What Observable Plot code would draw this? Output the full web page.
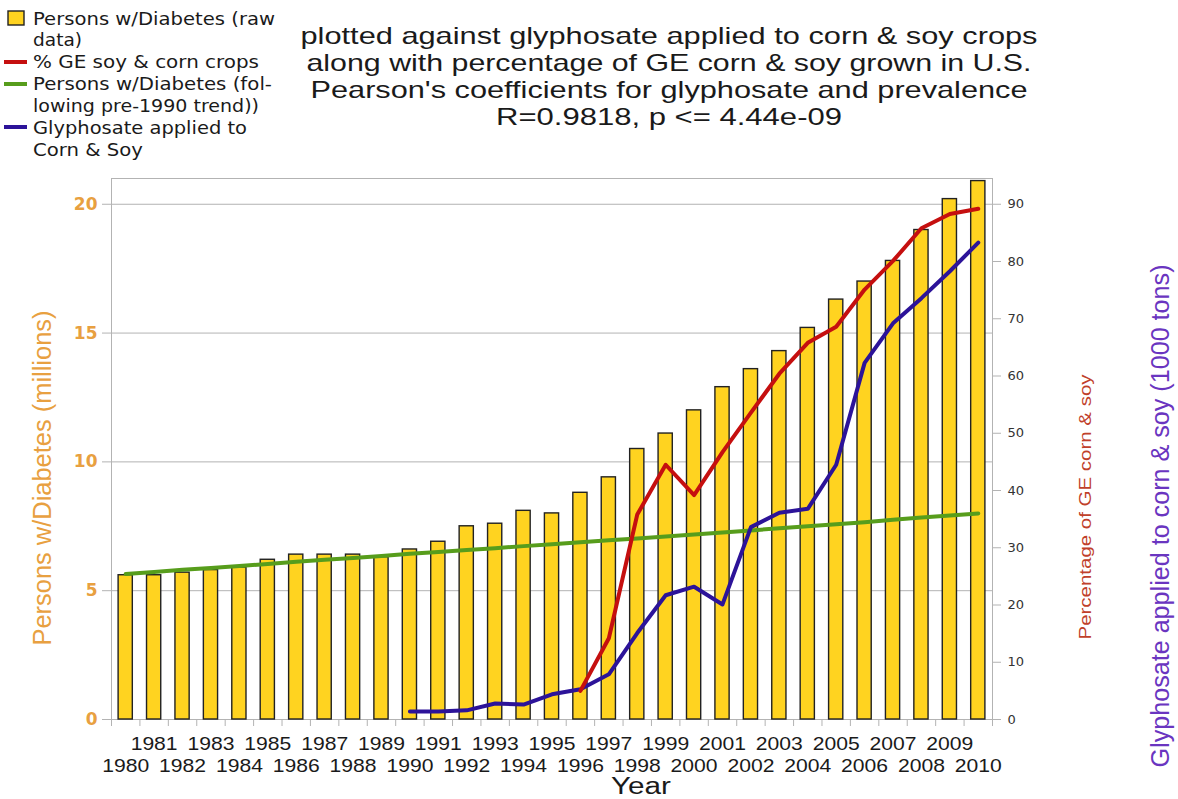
<!DOCTYPE html>
<html><head><meta charset="utf-8">
<script src="https://cdn.jsdelivr.net/npm/d3@7"></script>
<script src="https://cdn.jsdelivr.net/npm/@observablehq/plot@0.6"></script>
<style>html,body{margin:0;padding:0;background:#fff;} #chart{position:relative;width:1178px;height:799px;}</style>
</head><body><div id="chart"></div>
<script>
// ---------------- data ----------------
const years = [1980,1981,1982,1983,1984,1985,1986,1987,1988,1989,1990,1991,1992,1993,1994,1995,1996,1997,1998,1999,2000,2001,2002,2003,2004,2005,2006,2007,2008,2009,2010];
const diabetesMillions = [5.6,5.6,5.7,5.8,5.9,6.2,6.4,6.4,6.4,6.3,6.6,6.9,7.5,7.6,8.1,8.0,8.8,9.4,10.5,11.1,12.0,12.9,13.6,14.3,15.2,16.3,17.0,17.8,19.0,20.2,20.9];
const trendMillions = [5.65,5.73,5.81,5.88,5.96,6.04,6.12,6.2,6.27,6.35,6.43,6.5,6.58,6.65,6.73,6.8,6.88,6.96,7.03,7.1,7.18,7.26,7.34,7.42,7.5,7.58,7.66,7.75,7.84,7.92,8.0];
const geYears = [1996,1997,1998,1999,2000,2001,2002,2003,2004,2005,2006,2007,2008,2009,2010];
const gePercent = [5,14.2,35.8,44.5,39.2,46.7,53.6,60.4,65.8,68.6,75.1,80.1,85.8,88.3,89.2];
const glyYears = [1990,1991,1992,1993,1994,1995,1996,1997,1998,1999,2000,2001,2002,2003,2004,2005,2006,2007,2008,2009,2010];
const glyThousandTons = [1.4,1.4,1.6,2.8,2.6,4.4,5.3,7.9,15.1,21.7,23.2,20.1,33.6,36.1,36.8,44.5,62.3,69.2,73.6,78.3,83.3];
const leftTicks = [0,5,10,15,20];
const rightTicks = [0,10,20,30,40,50,60,70,80,90];
const titleLines = [
  "plotted against glyphosate applied to corn & soy crops",
  "along with percentage of GE corn & soy grown in U.S.",
  "Pearson's coefficients for glyphosate and prevalence",
  "R=0.9818, p <= 4.44e-09"
];
const legendLabels = [
  ["Persons w/Diabetes (raw", "data)"],
  ["% GE soy & corn crops"],
  ["Persons w/Diabetes (fol-", "lowing pre-1990 trend))"],
  ["Glyphosate applied to", "Corn & Soy"]
];
const leftAxisTitle = "Persons w/Diabetes (millions)";
const rightAxisTitle1 = "Percentage of GE corn & soy";
const rightAxisTitle2 = "Glyphosate applied to corn & soy (1000 tons)";
const xAxisTitle = "Year";

// ---------------- build ----------------
const RATIO = 4.5; // right-axis units per left-axis unit
const COLORS = {bar: "#ffd320", trend: "#579d1c", ge: "#c50f0f", gly: "#2c1399"};
const bars = years.map((year, i) => ({year, v: diabetesMillions[i]}));
const trend = years.map((year, i) => ({year, v: trendMillions[i]}));
const ge = geYears.map((year, i) => ({year, v: gePercent[i]}));
const gly = glyYears.map((year, i) => ({year, v: glyThousandTons[i]}));
const boundaries = years.map(y => y - 0.5).concat([years[years.length - 1] + 0.5]);
const oddYears = years.filter(y => y % 2 === 1);
const evenYears = years.filter(y => y % 2 === 0);

const svg = Plot.plot({
  width: 1178, height: 799,
  marginLeft: 111, marginRight: 186, marginTop: 178, marginBottom: 80,
  x: {type: "linear", domain: [years[0] - 0.5, years[years.length - 1] + 0.5]},
  y: {domain: [0, 21]},
  style: {fontFamily: "Liberation Sans, sans-serif", background: "#fff", overflow: "visible"},
  marks: [
    Plot.gridY(leftTicks, {stroke: "#b3b3b3", strokeOpacity: 1}),
    Plot.frame({stroke: "#b3b3b3"}),
    Plot.axisX({ticks: boundaries, tickSize: 7, tickFormat: () => "", stroke: "#b3b3b3", label: null}),
    Plot.axisY({ticks: leftTicks, tickSize: 9, tickPadding: 5, stroke: "#b3b3b3", fill: "#e8a040",
      fontSize: 17, fontWeight: "bold", fontFamily: "DejaVu Sans", label: null}),
    Plot.axisY({anchor: "right", ticks: rightTicks.map(t => t / RATIO), tickFormat: d => String(Math.round(d * RATIO)),
      tickSize: 8, tickPadding: 7, stroke: "#b3b3b3", fill: "#333", fontSize: 13, fontFamily: "DejaVu Sans", label: null}),
    Plot.rectY(bars, {x1: d => d.year - 0.25, x2: d => d.year + 0.25, y: "v", fill: COLORS.bar, stroke: "#222", strokeWidth: 1.4}),
    Plot.line(trend, {x: "year", y: "v", stroke: COLORS.trend, strokeWidth: 4}),
    Plot.line(gly, {x: "year", y: d => d.v / RATIO, stroke: COLORS.gly, strokeWidth: 4}),
    Plot.line(ge, {x: "year", y: d => d.v / RATIO, stroke: COLORS.ge, strokeWidth: 4}),
    Plot.text(oddYears, {x: d => d, text: d => String(d), frameAnchor: "bottom", dy: 24, lineAnchor: "middle", fontSize: 19,
      fontFamily: "Liberation Sans", fill: "#1a1a1a", className: "yearlab"}),
    Plot.text(evenYears, {x: d => d, text: d => String(d), frameAnchor: "bottom", dy: 46, lineAnchor: "middle", fontSize: 19,
      fontFamily: "Liberation Sans", fill: "#1a1a1a", className: "yearlab"})
  ]
});
document.getElementById("chart").appendChild(svg);
// widen year labels to the reference's stretched look
d3.select(svg).selectAll(".yearlab text").attr("textLength", 47).attr("lengthAdjust", "spacingAndGlyphs");

// ---------------- overlay texts (title, legend, axis titles) ----------------
const g = d3.select(svg).append("g");
function addText(o) {
  const t = g.append("text")
    .attr("x", o.x).attr("y", o.y)
    .attr("text-anchor", o.anchor || "start")
    .attr("font-size", o.size)
    .attr("font-family", o.family)
    .attr("fill", o.fill || "#1a1a1a")
    .text(o.text);
  if (o.baseline) t.attr("dominant-baseline", o.baseline);
  if (o.width) t.attr("textLength", o.width).attr("lengthAdjust", "spacingAndGlyphs");
  if (o.rotate) t.attr("transform", `rotate(-90 ${o.x} ${o.y})`);
  return t;
}
// title
const titleBase = [44, 71, 98, 125];
const titleWidth = [737, 725, 717, 346];
titleLines.forEach((s, i) => addText({text: s, x: 669, y: titleBase[i], anchor: "middle", size: 24,
  family: "Liberation Sans", width: titleWidth[i]}));

// legend
const legendBase = [[25, 46], [68], [90, 112], [134, 156]];
const legendWidth = [[242, 49], [226], [239, 226], [214, 110]];
legendLabels.forEach((lines, i) => lines.forEach((s, j) => addText({text: s, x: 33, y: legendBase[i][j], size: 17,
  family: "DejaVu Sans", width: legendWidth[i][j]})));
g.append("rect").attr("x", 8).attr("y", 11).attr("width", 16).attr("height", 14)
  .attr("fill", COLORS.bar).attr("stroke", "#222").attr("stroke-width", 1.4);
[[COLORS.ge, 62], [COLORS.trend, 84], [COLORS.gly, 127]].forEach(([c, y]) =>
  g.append("line").attr("x1", 4).attr("x2", 27).attr("y1", y).attr("y2", y).attr("stroke", c).attr("stroke-width", 4));

// axis titles
addText({text: leftAxisTitle, x: 42, y: 478, anchor: "middle", baseline: "central", size: 25,
  family: "Liberation Sans", fill: "#e8a040", width: 335, rotate: true});
addText({text: rightAxisTitle1, x: 1085, y: 507, anchor: "middle", baseline: "central", size: 16,
  family: "Liberation Sans", fill: "#c0402a", width: 265, rotate: true});
addText({text: rightAxisTitle2, x: 1160, y: 516, anchor: "middle", baseline: "central", size: 25,
  family: "Liberation Sans", fill: "#6a35c0", width: 503, rotate: true});
addText({text: xAxisTitle, x: 641, y: 794, anchor: "middle", size: 23,
  family: "Liberation Sans", fill: "#1a1a1a", width: 60});
</script>
</body></html>
